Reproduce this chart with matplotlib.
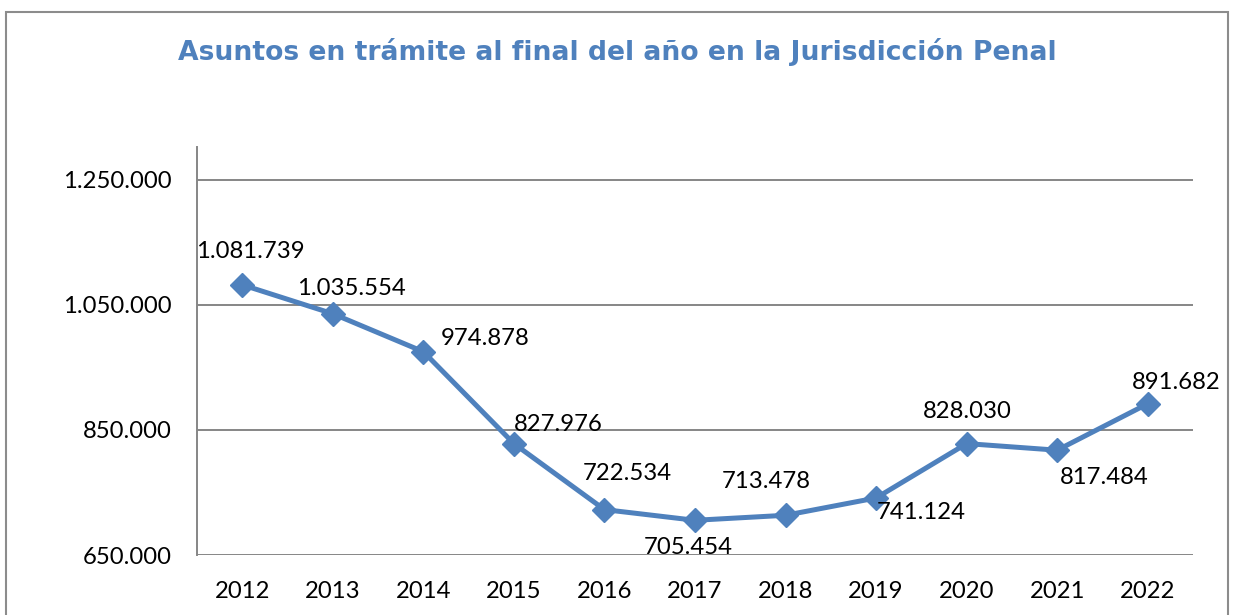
import matplotlib
matplotlib.use("Agg")
import matplotlib.pyplot as plt
from matplotlib.patches import Rectangle
from matplotlib.ticker import FuncFormatter

# --- Data ---
years = ["2012", "2013", "2014", "2015", "2016", "2017",
         "2018", "2019", "2020", "2021", "2022"]
pending = [1081739, 1035554, 974878, 827976, 722534, 705454,
           713478, 741124, 828030, 817484, 891682]
y_ticks = [650000, 850000, 1050000, 1250000]

TITLE = "Asuntos en trámite al final del año en la Jurisdicción Penal"
BLUE = "#4F81BD"
GRID = "#868686"

# label offsets in points (dx, dy), roughly where Excel put them
label_offsets = [(5.8, 23.8), (13.7, 18), (44.6, 9.4), (31.7, 13.7), (16.6, 25.9),
                 (-5, -19.4), (-13.7, 24.5), (32.4, -10.8), (0.7, 23), (33.8, -19.4),
                 (20.2, 15.1)]


def dot_thousands(v, pos=None):
    return f"{int(round(v)):,}".replace(",", ".")


fig = plt.figure(figsize=(12.33, 6.15), dpi=100)
ax = fig.add_axes([197 / 1233, 60 / 615, 996 / 1233, 408 / 615])

x = list(range(len(years)))
ax.plot(x, pending, color=BLUE, lw=3.6, marker="D", ms=12, zorder=3)

for i, v in enumerate(pending):
    dx, dy = label_offsets[i]
    ax.annotate(dot_thousands(v), (i, v), xytext=(dx, dy), textcoords="offset points",
                ha="center", va="center", fontsize=17.2, family="Lato", color="black",
                zorder=4)

ax.set_xlim(-0.5, len(years) - 0.5)
ax.set_ylim(650000, 1302000)
ax.set_yticks(y_ticks)
ax.yaxis.set_major_formatter(FuncFormatter(dot_thousands))
ax.set_xticks(x)
ax.set_xticklabels(years)
ax.tick_params(length=0, labelsize=17.2)
ax.tick_params(axis="x", pad=19)
ax.tick_params(axis="y", pad=18)
for lab in ax.get_xticklabels() + ax.get_yticklabels():
    lab.set_family("Lato")

ax.grid(axis="y", color=GRID, lw=1.4)
ax.set_axisbelow(True)
for s in ["top", "right", "bottom"]:
    ax.spines[s].set_visible(False)
ax.spines["left"].set_color(GRID)
ax.spines["left"].set_linewidth(1.4)

fig.text(617 / 1233, 1 - 60 / 615, TITLE, ha="center", va="baseline",
         fontsize=19.2, fontweight="bold", color=BLUE, family="DejaVu Sans")

# chart frame (bottom edge is outside the picture)
fig.patches.append(Rectangle((5.5 / 1233, -0.05), 1222.5 / 1233, 1.05 - 11.5 / 615,
                             transform=fig.transFigure, fill=False,
                             edgecolor="#8C8C8C", lw=1.5))

fig.savefig("out.png", dpi=100)
